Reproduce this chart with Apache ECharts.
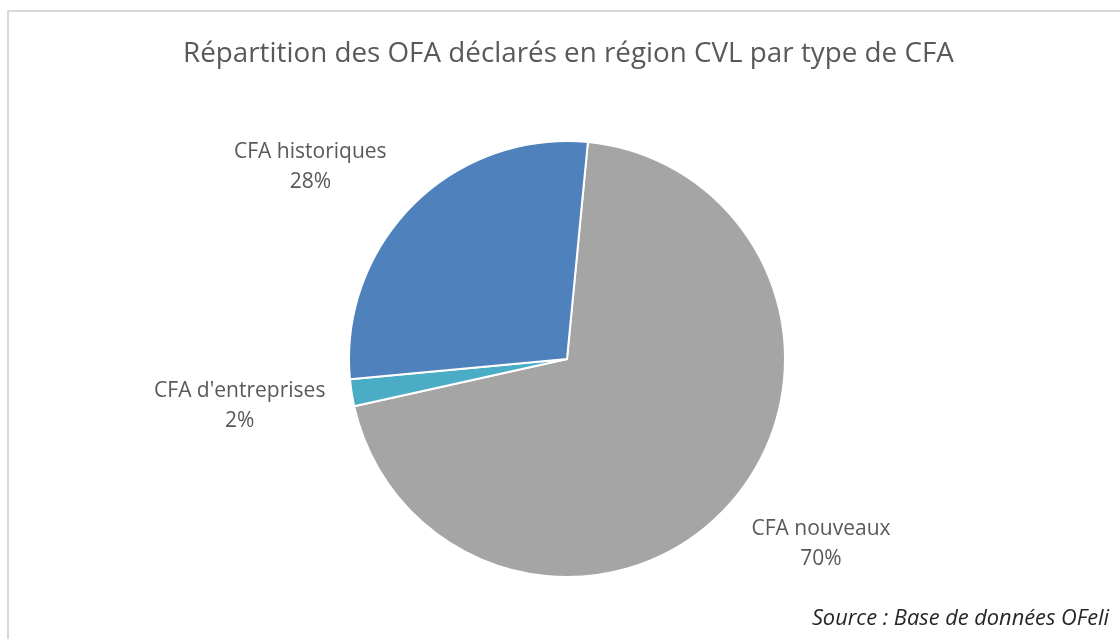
<!DOCTYPE html>
<html>
<head>
<meta charset="utf-8">
<script src="https://cdn.jsdelivr.net/npm/echarts@6/dist/echarts.min.js"></script>
<style>
html,body{margin:0;padding:0;background:#fff;}
#chart{width:1120px;height:639px;}
</style>
</head>
<body>
<div id="chart"></div>
<script>
const titleText = "Répartition des OFA déclarés en région CVL par type de CFA";
const sourceText = "Source : Base de données OFeli";
const categories = ["CFA nouveaux", "CFA d'entreprises", "CFA historiques"];
const values = [70, 2, 28];
const colors = ["#A5A5A5", "#4BACC6", "#4F81BD"];

const CENTER = [567, 359];
const RADIUS = 218;
const START = 84.5;      // degrees, ECharts convention
const LABEL_GAP = 25;    // gap between pie edge and label box
const LABEL_ROT = 2;     // small angular shift of label anchors (degrees)

const chart = echarts.init(document.getElementById('chart'));
const FONT = "Open Sans";

const total = values.reduce((a, b) => a + b, 0);
function midAngle(idx) {   // radians, math convention (ccw from +x), y up
  let before = 0;
  for (let i = 0; i < idx; i++) before += values[i];
  const deg = START - (before + values[idx] / 2) / total * 360 + LABEL_ROT;
  return deg * Math.PI / 180;
}
const clamp = v => Math.max(-1, Math.min(1, v));

chart.setOption({
  animation: false,
  backgroundColor: '#ffffff',
  title: [{
    text: titleText,
    left: 178,
    top: 35,
    textStyle: {fontFamily: FONT, fontSize: 27.8, fontWeight: 'normal', color: '#595959'}
  }, {
    text: sourceText,
    right: 6,
    top: 603,
    textStyle: {fontFamily: FONT, fontSize: 21.8, fontWeight: 'normal', fontStyle: 'italic', color: '#262626'}
  }],
  graphic: [{
    type: 'rect',
    shape: {x: 8, y: 11, width: 1200, height: 700},
    style: {fill: 'none', stroke: '#d9d9d9', lineWidth: 2},
    silent: true
  }],
  series: [{
    type: 'pie',
    center: CENTER,
    radius: RADIUS,
    startAngle: START,
    clockwise: true,
    data: categories.map((c, i) => ({name: c, value: values[i], itemStyle: {color: colors[i]}})),
    itemStyle: {borderColor: '#ffffff', borderWidth: 2},
    label: {
      show: true,
      position: 'outside',
      formatter: p => p.name + '\n' + Math.round(p.percent) + '%',
      fontFamily: FONT,
      fontSize: 21,
      lineHeight: 30,
      color: '#595959'
    },
    labelLine: {show: false, length: 20, length2: 10},
    labelLayout: function (params) {
      const r = params.labelRect;
      const a = midAngle(params.dataIndex);
      const dx = Math.cos(a), dy = -Math.sin(a);
      const px = CENTER[0] + (RADIUS + LABEL_GAP) * dx;
      const py = CENTER[1] + (RADIUS + LABEL_GAP) * dy;
      const ox = clamp(dx * 1.4) * r.width / 2;
      const oy = Math.pow(clamp(dy * 1.6), 3) * r.height / 2 + (dy < 0 ? 4 : 0);
      return {
        x: px + ox - 3,
        y: py + oy,
        align: 'center',
        verticalAlign: 'middle'
      };
    }
  }]
});
</script>
</body>
</html>
